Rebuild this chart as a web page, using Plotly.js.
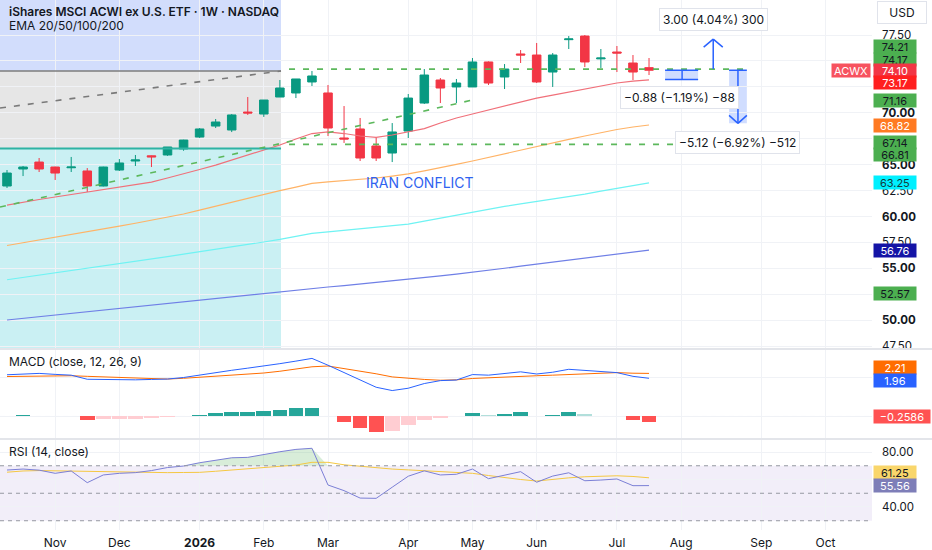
<!DOCTYPE html>
<html><head><meta charset="utf-8">
<script src="https://cdn.plot.ly/plotly-3.0.1.min.js"></script>
<style>html,body{margin:0;padding:0;background:#fff;}#chart{width:932px;height:550px;}</style>
</head><body><div id="chart"></div>
<script>
// ---------- DATA ----------
const weeks = ['2025-10-13','2025-10-20','2025-10-27','2025-11-03','2025-11-10','2025-11-17','2025-11-24','2025-12-01','2025-12-08','2025-12-15','2025-12-22','2025-12-29','2026-01-05','2026-01-12','2026-01-19','2026-01-26','2026-02-02','2026-02-09','2026-02-16','2026-02-23','2026-03-02','2026-03-09','2026-03-16','2026-03-23','2026-03-30','2026-04-06','2026-04-13','2026-04-20','2026-04-27','2026-05-04','2026-05-11','2026-05-18','2026-05-25','2026-06-01','2026-06-08','2026-06-15','2026-06-22','2026-06-29','2026-07-06','2026-07-13','2026-07-20'];
const open  = [62.94,64.58,65.25,64.77,64.70,64.39,62.94,64.48,65.35,65.85,65.93,66.51,67.66,68.72,68.34,70.07,69.88,71.52,71.91,72.97,71.91,67.57,68.44,66.80,66.12,68.24,70.94,73.16,72.49,72.49,74.90,73.45,75.67,75.57,73.93,77.05,77.40,75.20,75.86,74.80,74.35];
const high  = [64.48,64.87,65.64,64.80,65.74,64.67,64.80,65.54,65.93,65.88,66.70,67.40,68.53,69.40,69.88,71.52,71.23,73.16,73.26,74.03,72.68,70.65,69.50,67.66,69.01,71.81,74.22,73.35,73.26,75.28,74.95,74.70,76.05,76.73,75.76,77.40,77.50,76.15,76.44,75.57,75.28];
const low   = [62.75,63.90,64.29,63.52,64.29,62.36,62.90,64.39,64.87,64.77,65.85,66.34,67.57,68.53,68.14,69.79,69.60,71.52,71.42,72.58,67.76,67.09,65.35,65.35,65.25,67.57,70.85,70.94,70.94,72.49,72.68,72.29,74.80,72.87,72.49,76.15,74.41,74.32,73.93,73.16,73.64];
const close = [64.19,64.77,64.58,64.19,64.77,62.94,64.77,65.16,65.45,65.75,66.70,67.37,68.44,69.11,69.79,69.98,71.23,72.39,73.26,73.55,68.53,67.47,65.64,65.64,68.15,71.42,73.64,72.39,72.87,74.90,72.87,74.22,75.57,72.97,75.57,77.12,74.90,75.28,75.76,73.93,74.10];

const ema20  = [61.10,61.40,61.64,61.88,62.12,62.31,62.55,62.79,63.04,63.32,63.71,64.10,64.53,64.96,65.45,65.93,66.41,66.89,67.47,68.00,68.15,68.00,67.76,67.63,67.86,68.15,68.48,69.01,69.50,69.88,70.27,70.65,71.04,71.42,71.71,72.00,72.29,72.58,72.87,73.06,73.17];
const ema50  = [57.20,57.46,57.72,57.98,58.24,58.50,58.78,59.07,59.35,59.64,59.95,60.24,60.62,61.01,61.40,61.78,62.15,62.50,62.84,63.20,63.33,63.44,63.56,63.71,63.90,64.11,64.40,64.69,65.02,65.35,65.70,66.08,66.43,66.80,67.10,67.44,67.76,68.10,68.39,68.63,68.82];
const ema100 = [53.90,54.12,54.33,54.55,54.76,54.97,55.20,55.44,55.66,55.89,56.13,56.37,56.59,56.83,57.07,57.31,57.54,57.79,58.06,58.38,58.52,58.66,58.80,58.96,59.10,59.27,59.56,59.85,60.14,60.43,60.72,60.98,61.21,61.44,61.67,61.91,62.16,62.44,62.72,63.00,63.25];
const ema200 = [50.02,50.18,50.35,50.50,50.66,50.83,50.98,51.14,51.31,51.47,51.65,51.81,51.96,52.13,52.29,52.46,52.62,52.77,52.92,53.05,53.20,53.34,53.49,53.63,53.78,53.92,54.10,54.27,54.45,54.62,54.81,55.01,55.22,55.42,55.62,55.82,56.03,56.22,56.42,56.62,56.76];

const macdLine   = [2.14,2.19,2.21,2.16,2.12,1.91,1.89,1.87,1.88,1.90,1.92,2.00,2.13,2.25,2.37,2.48,2.58,2.71,2.84,2.98,2.63,2.26,1.87,1.50,1.33,1.45,1.69,1.84,1.87,2.15,2.12,2.21,2.29,2.18,2.27,2.42,2.36,2.30,2.25,2.06,1.96];
const signalLine = [2.05,2.06,2.08,2.08,2.09,2.06,2.03,1.99,1.96,1.93,1.92,1.96,2.01,2.07,2.12,2.18,2.23,2.32,2.44,2.55,2.59,2.46,2.32,2.19,2.03,1.95,1.90,1.86,1.88,1.95,1.99,2.04,2.07,2.09,2.12,2.15,2.18,2.22,2.25,2.22,2.21];
const macdHist   = [0.05,0.10,0.03,0.02,0.01,-0.17,-0.15,-0.14,-0.11,-0.08,-0.05,0.03,0.10,0.17,0.22,0.23,0.29,0.34,0.41,0.43,0.04,-0.26,-0.58,-0.77,-0.75,-0.46,-0.17,-0.07,0.02,0.19,0.10,0.15,0.22,0.05,0.10,0.22,0.12,0.03,0.01,-0.17,-0.2586];

const rsi   = [66.9,67.6,66.8,64.5,66.2,57.7,63.3,64.5,65.0,66.5,68.7,69.8,72.2,74.2,75.8,76.1,78.4,80.2,81.9,82.7,56.0,51.9,46.5,46.3,54.4,62.4,66.3,63.3,63.8,67.6,60.6,63.1,65.7,58.0,62.5,64.9,59.1,59.6,60.4,55.5,55.56];
const rsiMA = [65.3,66.2,66.5,66.3,65.9,65.5,65.5,65.2,65.0,64.9,65.0,65.1,65.2,66.0,66.9,67.6,68.4,69.4,70.5,72.5,72.5,70.7,69.6,68.3,67.6,67.0,66.4,65.7,65.1,64.5,62.9,61.2,60.0,58.9,60.2,61.2,62.0,62.4,62.7,62.2,61.25];

const monthTickDates  = ['2025-11-03','2025-12-01','2026-01-05','2026-02-02','2026-03-02','2026-04-06','2026-05-04','2026-06-01','2026-07-06','2026-08-03','2026-09-07','2026-10-05'];
const monthTickLabels = ['Nov','Dec','<b>2026</b>','Feb','Mar','Apr','May','Jun','Jul','Aug','Sep','Oct'];
const priceTicks = [47.5,50,52.5,55,57.5,60,62.5,65,67.5,70,72.5,75,77.5];
const hiddenPriceTicks = [52.5,67.5,72.5,75];   // covered by value labels in the reference
const rsiTicks = [40,60,80];
const macdTicks = [0,2];

// drawing levels
const zoneTop = 74.03, zoneBottom = 66.55;
const grayTrend = [70.46, 74.03];
const greenTrend = [60.91, 71.23];
const resistance = 74.21, support = 66.95;
const lastPrice = 74.10;
const measureValues = [3.00, -0.88, -5.12];
const measureTexts = ['3.00 (4.04%) 300', '\u22120.88 (\u22121.19%) \u221288', '\u22125.12 (\u22126.92%) \u2212512'];

const priceLabelValues = [74.21,74.17,74.10,73.17,71.16,68.82,67.14,66.81,63.25,56.76,52.57];
const macdLabelValues = [2.21,1.96,-0.2586];
const rsiLabelValues = [61.25,55.56];

// ---------- STYLE ----------
const X0 = '2025-10-09 22:40', X1 = '2026-10-25 06:00';
const Y_MAIN = [47.32, 80.875], Y_MACD = [-1.103, 3.41], Y_RSI = [23.27, 88.73];
const zoneEnd = '2026-02-09 12:00';
const GREEN = '#089981', RED = '#f23645', TXT = '#131722', GRID = '#f0f2f6';
const FONT = 'Inter, Roboto, "Open Sans", sans-serif';

const traces = [];
traces.push({x:weeks,y:ema200,type:'scatter',mode:'lines',line:{color:'#6f7fe6',width:1.2},xaxis:'x3',yaxis:'y'});
traces.push({x:weeks,y:ema100,type:'scatter',mode:'lines',line:{color:'#6ff3f3',width:1.2},xaxis:'x3',yaxis:'y'});
traces.push({x:weeks,y:ema50,type:'scatter',mode:'lines',line:{color:'#ffb366',width:1.2},xaxis:'x3',yaxis:'y'});
traces.push({x:weeks,y:ema20,type:'scatter',mode:'lines',line:{color:'#f0707a',width:1.2},xaxis:'x3',yaxis:'y'});
traces.push({x:weeks,open:open,high:high,low:low,close:close,type:'candlestick',xaxis:'x3',yaxis:'y',
  increasing:{line:{color:GREEN,width:1},fillcolor:GREEN},
  decreasing:{line:{color:RED,width:1},fillcolor:RED},whiskerwidth:0});
const histColors = macdHist.map((v,i)=>{const p = i ? macdHist[i-1] : v; if (v>=0) return v>=p ? '#26a69a' : '#b2dfdb'; return v<=p ? '#ff5252' : '#ffcdd2';});
traces.push({x:weeks,y:macdHist,type:'bar',marker:{color:histColors,line:{width:0}},width:6.4*86400000,xaxis:'x2',yaxis:'y2'});
traces.push({x:weeks,y:signalLine,type:'scatter',mode:'lines',line:{color:'#ff6d00',width:1},xaxis:'x2',yaxis:'y2'});
traces.push({x:weeks,y:macdLine,type:'scatter',mode:'lines',line:{color:'#2962ff',width:1},xaxis:'x2',yaxis:'y2'});
traces.push({x:weeks,y:weeks.map(()=>70),type:'scatter',mode:'lines',line:{width:0,color:'rgba(0,0,0,0)'},xaxis:'x',yaxis:'y3'});
traces.push({x:weeks,y:rsi.map(v=>Math.max(v,70)),type:'scatter',mode:'lines',line:{width:0,color:'rgba(0,0,0,0)'},fill:'tonexty',fillcolor:'rgba(76,175,80,0.22)',xaxis:'x',yaxis:'y3'});
traces.push({x:weeks,y:rsiMA,type:'scatter',mode:'lines',line:{color:'#f5c842',width:1},xaxis:'x',yaxis:'y3'});
traces.push({x:weeks,y:rsi,type:'scatter',mode:'lines',line:{color:'#7b7fd6',width:1},xaxis:'x',yaxis:'y3'});

const shapes = [];
const rectM = (x0,x1,y0,y1,fill)=>({type:'rect',xref:'x3',yref:'y',x0,x1,y0,y1,fillcolor:fill,line:{width:0},layer:'below'});
const lineM = (x0,y0,x1,y1,color,width,dash)=>({type:'line',xref:'x3',yref:'y',x0,y0,x1,y1,line:{color,width,dash:dash||'solid'}});
shapes.push(rectM(X0,zoneEnd,zoneTop,Y_MAIN[1],'#d2ddfc'));
shapes.push(rectM(X0,zoneEnd,zoneBottom,zoneTop,'#e6e6e6'));
shapes.push(rectM(X0,zoneEnd,Y_MAIN[0],zoneBottom,'#caf0f3'));
shapes.push(lineM(X0,zoneTop,zoneEnd,zoneTop,'#7d7d7d',1.5));
shapes.push(lineM(X0,zoneBottom,zoneEnd,zoneBottom,'#2fb3a3',2));
shapes.push(lineM(X0,grayTrend[0],zoneEnd,grayTrend[1],'#7a7a7a',1.6,'6px,8px'));
shapes.push(lineM(X0,greenTrend[0],'2026-05-04',greenTrend[1],'#5cb85c',1.6,'6px,8px'));
shapes.push(lineM('2026-02-13',resistance,'2026-08-31',resistance,'#5cb85c',1.6,'6px,8px'));
shapes.push(lineM('2026-02-13',support,'2026-08-31',support,'#5cb85c',1.6,'6px,8px'));
const BLUE = '#2962ff', BFILL = 'rgba(41,98,255,0.22)';
const m1 = lastPrice + measureValues[1], m2 = lastPrice + measureValues[2], m0 = lastPrice + measureValues[0];
shapes.push(rectM('2026-07-27',"2026-08-10 10:00",m1,lastPrice,BFILL));
shapes.push(lineM('2026-07-27',lastPrice,'2026-08-10 10:00',lastPrice,BLUE,1.5));
shapes.push(lineM('2026-07-27',m1,'2026-08-10 10:00',m1,BLUE,1.5));
shapes.push(lineM('2026-08-03 10:00',m1,'2026-08-03 10:00',lastPrice,BLUE,1.5));
shapes.push(lineM('2026-08-17',resistance,'2026-08-17',m0,BLUE,1.5));
shapes.push(lineM('2026-08-12 20:00',m0-0.77,'2026-08-17',m0,BLUE,1.5));
shapes.push(lineM('2026-08-21 04:00',m0-0.77,'2026-08-17',m0,BLUE,1.5));
shapes.push(rectM('2026-08-23 22:00','2026-08-31 16:00',m2,lastPrice,BFILL));
shapes.push(lineM('2026-08-23 22:00',lastPrice,'2026-08-31 16:00',lastPrice,BLUE,1.5));
shapes.push(lineM('2026-08-27 19:00',lastPrice,'2026-08-27 19:00',m2,BLUE,1.5));
shapes.push(lineM('2026-08-23 22:00',m2+0.77,'2026-08-27 19:00',m2,BLUE,1.5));
shapes.push(lineM('2026-08-31 16:00',m2+0.77,'2026-08-27 19:00',m2,BLUE,1.5));
shapes.push({type:'rect',xref:'paper',yref:'y3',x0:0,x1:1,y0:30,y1:70,fillcolor:'rgba(126,87,194,0.1)',line:{width:0},layer:'below'});
[70,50,30].forEach(v=>shapes.push({type:'line',xref:'paper',yref:'y3',x0:0,x1:1,y0:v,y1:v,line:{color:'#9598a1',width:1,dash:'4px,4px'}}));
shapes.push({type:'line',xref:'paper',yref:'y2',x0:0,x1:1,y0:0,y1:0,line:{color:'#b8bbc4',width:1,dash:'5px,4px'},layer:'below'});
[0.3415,0.1717].forEach(v=>shapes.push({type:'line',xref:'paper',yref:'paper',x0:0,x1:1.07,y0:v,y1:v,line:{color:'#e3e5ea',width:2}}));

const ann = [];
const txt = (x,y,text,opt)=>Object.assign({xref:'paper',yref:'paper',x,y,text,showarrow:false,xanchor:'left',yanchor:'middle',font:{family:FONT,size:12,color:TXT}},opt||{});
ann.push(txt(7/872,0.9774,'iShares MSCI ACWI ex U.S. ETF · 1W · NASDAQ',{font:{family:FONT,size:12,color:TXT,weight:600}}));
ann.push(txt(7/872,0.9528,'EMA 20/50/100/200'));
ann.push(txt(7/872,0.3170,'MACD (close, 12, 26, 9)'));
ann.push(txt(7/872,0.1472,'RSI (14, close)'));
ann.push({xref:'paper',yref:'paper',x:902/872,y:0.9755,text:'USD',showarrow:false,xanchor:'center',yanchor:'middle',font:{family:FONT,size:12,color:TXT},bgcolor:'#ffffff',bordercolor:'#e0e3eb',borderwidth:1,borderpad:3,width:42});
ann.push({xref:'x3',yref:'y',x:'2026-04-11',y:63.32,text:'IRAN CONFLICT',showarrow:false,font:{family:FONT,size:14,color:'#2f63f0'}});
const boxPos = [['2026-08-17',78.95],['2026-08-02 12:00',71.52],['2026-08-27 19:00',67.18]];
measureTexts.forEach((t,i)=>ann.push({xref:'x3',yref:'y',x:boxPos[i][0],y:boxPos[i][1],text:t,showarrow:false,xanchor:'center',yanchor:'middle',font:{family:FONT,size:12,color:TXT},bgcolor:'#ffffff',bordercolor:'#e0e3eb',borderwidth:1,borderpad:3}));
const axLab = (yref,v,text,bg,fg,dy,w)=>({xref:'paper',yref,x:1,y:v,xanchor:'left',yanchor:'middle',xshift:1,yshift:dy,text,showarrow:false,bgcolor:bg,font:{family:FONT,size:11,color:fg},width:w||40,height:11,borderpad:1});
const priceStyles = [['#4caf50',TXT,23],['#4caf50',TXT,10.5],['#f23645','#fff',0],['#ff1f1f','#fff',-3],['#4caf50',TXT,0],['#ff7a22','#fff',0],['#4caf50',TXT,0],['#4caf50',TXT,-9],['#00f0ff','#15393d',0],['#1414a6','#fff',0],['#4caf50',TXT,0]];
priceLabelValues.forEach((v,i)=>ann.push(axLab('y',v,v.toFixed(2),priceStyles[i][0],priceStyles[i][1],priceStyles[i][2])));
ann.push({xref:'paper',yref:'y',x:1,y:lastPrice,xanchor:'right',yanchor:'middle',xshift:-1,text:'ACWX',showarrow:false,bgcolor:'#f7525f',font:{family:FONT,size:11,color:'#fff'},width:36,height:11,borderpad:1});
const macdStyles = [['#ff6d00','#fff',6],['#2962ff','#fff',-2],['#ff5252','#fff',5.5]];
macdLabelValues.forEach((v,i)=>ann.push(axLab('y2',v,i<2?v.toFixed(2):'\u2212'+Math.abs(v).toFixed(4),macdStyles[i][0],macdStyles[i][1],macdStyles[i][2],i<2?40:54)));
const rsiStyles = [['#f9d66b',TXT,5],['#7e7eb8','#fff',0]];
rsiLabelValues.forEach((v,i)=>ann.push(axLab('y3',v,v.toFixed(2),rsiStyles[i][0],rsiStyles[i][1],rsiStyles[i][2])));

const xCommon = {type:'date',range:[X0,X1],showgrid:true,gridcolor:GRID,zeroline:false,showline:false,tickmode:'array',tickvals:monthTickDates,ticktext:monthTickLabels,rangeslider:{visible:false},fixedrange:true};
const yCommon = {side:'right',showgrid:true,gridcolor:GRID,zeroline:false,showline:false,ticks:'',ticklabelstandoff:9,tickfont:{family:FONT,size:11.5,color:TXT},fixedrange:true};
const priceTickText = priceTicks.map(v=>hiddenPriceTicks.includes(v)?'':(v%5===0?'<b>'+v.toFixed(2)+'</b>':v.toFixed(2)));

const layout = {
  width:932,height:550,margin:{l:0,r:60,t:0,b:20},paper_bgcolor:'#fff',plot_bgcolor:'#fff',showlegend:false,
  font:{family:FONT,color:TXT},bargap:0,boxgap:0.24,
  xaxis:Object.assign({},xCommon,{anchor:'y3',domain:[0,1],showticklabels:true,ticks:'',ticklabelstandoff:4,tickfont:{family:FONT,size:12,color:TXT}}),
  xaxis2:Object.assign({},xCommon,{anchor:'y2',matches:'x',showticklabels:false}),
  xaxis3:Object.assign({},xCommon,{anchor:'y',matches:'x',showticklabels:false}),
  yaxis:Object.assign({},yCommon,{domain:[0.3434,1],range:Y_MAIN,anchor:'x3',tickmode:'array',tickvals:priceTicks,ticktext:priceTickText}),
  yaxis2:Object.assign({},yCommon,{domain:[0.1736,0.3396],range:Y_MACD,anchor:'x2',tickmode:'array',tickvals:macdTicks,ticktext:macdTicks.map(v=>v===0?v.toFixed(4):'')}),
  yaxis3:Object.assign({},yCommon,{domain:[0,0.1698],range:Y_RSI,anchor:'x',tickmode:'array',tickvals:rsiTicks,ticktext:rsiTicks.map(v=>v===60?'':v.toFixed(2))}),
  shapes:shapes,annotations:ann
};
Plotly.newPlot('chart',traces,layout,{staticPlot:true,displayModeBar:false});
</script></body></html>
